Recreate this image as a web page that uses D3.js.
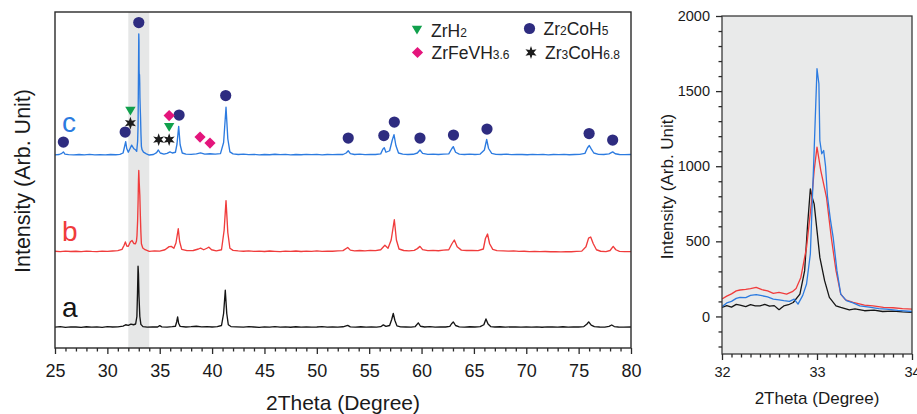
<!DOCTYPE html>
<html>
<head>
<meta charset="utf-8">
<script src="https://cdn.jsdelivr.net/npm/d3@7"></script>
<style>
  html, body { margin: 0; padding: 0; background: #fff; }
  svg { display: block; font-family: "Liberation Sans", Arial, Helvetica, sans-serif; }
</style>
</head>
<body>
<svg id="chart" width="917" height="414"></svg>
<script>
// ---------- XRD patterns, [2θ (deg), intensity (counts)] ----------
const patternA = [[25,38],[25.5,44],[26,36],[26.5,42],[27,40],[27.5,35],[28,43],[28.5,38],[29,41],[29.5,36],[30,44],[30.5,40],[31,42],[31.5,52],[31.75,70],[32,62],[32.25,78],[32.5,70],[32.7,80],[32.82,180],[32.88,500],[32.93,850],[32.97,750],[33.02,450],[33.1,180],[33.2,75],[33.4,45],[33.8,38],[34.3,42],[34.8,40],[35,58],[35.2,42],[35.7,38],[36.2,44],[36.5,50],[36.62,110],[36.71,175],[36.8,90],[36.95,48],[37.5,40],[38,44],[38.5,50],[39,42],[39.5,46],[40,40],[40.5,44],[40.9,60],[41.1,220],[41.26,530],[41.4,220],[41.55,70],[41.8,46],[42.3,42],[43,38],[43.5,44],[44,40],[44.5,36],[45,42],[45.5,39],[46,44],[46.5,38],[47,41],[47.5,37],[48,43],[48.5,39],[49,42],[49.5,38],[50,40],[50.5,44],[51,38],[51.5,41],[52,39],[52.5,43],[52.95,62],[53.2,42],[53.7,38],[54.2,43],[54.7,39],[55.2,41],[55.7,38],[56.1,44],[56.35,68],[56.6,48],[56.95,60],[57.15,140],[57.3,220],[57.45,130],[57.65,55],[58,42],[58.5,40],[59,38],[59.4,46],[59.69,95],[59.9,50],[60.3,40],[60.8,44],[61.3,38],[61.8,42],[62.3,40],[62.7,48],[62.85,80],[63.03,108],[63.25,60],[63.6,42],[64.1,39],[64.6,43],[65.1,40],[65.6,44],[65.95,70],[66.15,148],[66.35,80],[66.6,46],[67,40],[67.5,43],[68,38],[68.5,42],[69,40],[69.5,38],[70,42],[70.5,39],[71,41],[71.5,37],[72,42],[72.5,40],[73,38],[73.5,43],[74,39],[74.5,41],[75,40],[75.5,46],[75.8,80],[75.96,108],[76.2,65],[76.5,44],[77,40],[77.5,38],[77.9,48],[78.16,67],[78.4,46],[78.8,40],[79.3,38],[80,40]];

const patternB = [[25,50],[25.5,44],[26,52],[26.5,47],[27,50],[27.5,45],[28,52],[28.5,48],[29,46],[29.5,52],[30,48],[30.5,53],[31,58],[31.4,75],[31.6,130],[31.72,175],[31.85,120],[32,116],[32.2,176],[32.36,193],[32.54,153],[32.68,149],[32.78,186],[32.83,260],[32.89,460],[32.94,749],[32.97,1000],[33,1127],[33.04,971],[33.1,793],[33.15,527],[33.2,305],[33.25,149],[33.38,93],[33.6,71],[34,49],[34.5,55],[35,52],[35.5,70],[35.9,112],[36.1,115],[36.35,90],[36.55,160],[36.77,350],[36.9,180],[37.1,75],[37.6,58],[38.2,60],[38.7,80],[38.9,92],[39.2,70],[39.5,90],[39.7,104],[39.95,70],[40.4,55],[40.9,70],[41.15,330],[41.33,725],[41.5,300],[41.7,90],[42,62],[42.5,55],[43,50],[43.5,56],[44,48],[44.5,52],[45,47],[45.5,53],[46,49],[46.5,46],[47,52],[47.5,48],[48,53],[48.5,47],[49,51],[49.5,49],[50,54],[50.5,48],[51,52],[51.5,50],[52,55],[52.5,58],[52.95,100],[53.2,65],[53.6,55],[54.1,60],[54.6,56],[55.1,62],[55.6,58],[56.1,70],[56.5,130],[56.8,90],[57.1,200],[57.4,470],[57.6,200],[57.85,80],[58.3,60],[58.8,56],[59.3,62],[59.6,85],[59.85,115],[60.1,72],[60.6,58],[61.1,62],[61.6,57],[62.1,64],[62.6,70],[62.9,150],[63.13,200],[63.4,110],[63.8,65],[64.3,60],[64.8,62],[65.4,58],[65.9,80],[66.1,220],[66.3,280],[66.5,150],[66.8,75],[67.2,58],[67.8,55],[68.3,52],[68.8,55],[69.3,49],[69.8,50],[70.3,46],[70.8,48],[71.3,44],[71.8,47],[72.3,43],[72.8,46],[73.3,42],[73.8,45],[74.3,43],[74.8,48],[75.3,52],[75.7,110],[75.95,225],[76.15,240],[76.4,150],[76.7,70],[77.1,50],[77.6,46],[78,60],[78.3,115],[78.55,70],[78.9,48],[79.4,44],[80,46]];

const patternC = [[25,35],[25.4,40],[25.65,55],[25.8,75],[25.95,45],[26.3,38],[26.8,34],[27.3,40],[27.8,36],[28.3,41],[28.8,35],[29.3,38],[29.8,36],[30.3,40],[30.8,37],[31.2,42],[31.5,60],[31.65,150],[31.75,211],[31.85,120],[32,71],[32.19,127],[32.32,165],[32.54,116],[32.71,100],[32.8,82],[32.89,216],[32.93,416],[32.97,1105],[33,1649],[33.02,1549],[33.03,1171],[33.05,1083],[33.07,1105],[33.09,1000],[33.11,800],[33.14,650],[33.17,527],[33.21,305],[33.25,149],[33.31,105],[33.45,71],[33.73,49],[34,33],[34.4,40],[34.7,65],[34.87,100],[35.05,60],[35.4,45],[35.7,55],[35.98,75],[36.2,60],[36.5,70],[36.65,180],[36.81,415],[36.95,170],[37.15,60],[37.5,45],[38,42],[38.5,48],[38.9,62],[39.3,45],[39.8,50],[40.3,44],[40.8,52],[41.1,200],[41.33,670],[41.5,250],[41.7,75],[42,48],[42.5,40],[43,44],[43.5,38],[44,42],[44.5,36],[45,40],[45.5,37],[46,43],[46.5,38],[47,41],[47.5,36],[48,40],[48.5,37],[49,42],[49.5,38],[50,41],[50.5,36],[51,40],[51.5,38],[52,42],[52.5,40],[52.8,60],[53,90],[53.2,52],[53.6,40],[54.1,44],[54.6,38],[55.1,42],[55.6,40],[56.1,48],[56.3,110],[56.44,130],[56.6,70],[56.95,90],[57.2,230],[57.37,305],[57.55,160],[57.8,60],[58.2,44],[58.7,40],[59.2,43],[59.6,60],[59.85,100],[60.1,55],[60.6,42],[61.1,45],[61.6,40],[62.1,44],[62.6,48],[62.9,120],[63.03,145],[63.25,70],[63.6,45],[64.1,40],[64.6,44],[65.1,40],[65.6,46],[66,100],[66.22,240],[66.4,120],[66.7,55],[67.1,42],[67.6,40],[68.1,44],[68.6,38],[69.1,42],[69.6,40],[70.1,37],[70.6,42],[71.1,38],[71.6,41],[72.1,36],[72.6,40],[73.1,38],[73.6,42],[74.1,37],[74.6,40],[75.1,41],[75.6,55],[75.85,130],[76.02,160],[76.2,115],[76.45,60],[76.9,42],[77.4,40],[77.9,48],[78.25,75],[78.5,50],[78.9,40],[79.4,38],[80,40]];

// vertical stacking offsets (counts) for the three patterns
const stackOffsets = { a: 0, b: 1000, c: 2300 };

// ---------- close-up of the main reflection, 32–34° ----------
const zoomA = [[32,60],[32.05,72],[32.1,62],[32.15,80],[32.19,76],[32.25,66],[32.3,78],[32.35,70],[32.4,71],[32.45,80],[32.5,68],[32.55,72],[32.6,45],[32.61,49],[32.65,70],[32.7,78],[32.75,93],[32.82,149],[32.87,305],[32.9,600],[32.93,849],[32.95,790],[32.97,749],[33,571],[33.03,393],[33.08,238],[33.13,127],[33.2,71],[33.25,60],[33.34,43],[33.4,50],[33.5,38],[33.6,42],[33.69,33],[33.8,36],[33.9,30],[34,27]];
const zoomB = [[32,116],[32.05,135],[32.1,150],[32.15,170],[32.19,176],[32.25,180],[32.3,185],[32.36,193],[32.42,178],[32.48,170],[32.54,153],[32.6,160],[32.68,149],[32.74,165],[32.78,186],[32.83,260],[32.89,460],[32.94,749],[32.97,971],[33,1127],[33.04,971],[33.1,793],[33.15,527],[33.2,305],[33.25,149],[33.3,110],[33.38,93],[33.5,75],[33.59,71],[33.7,60],[33.8,58],[33.9,52],[34,49]];
const zoomC = [[32,65],[32.05,90],[32.1,100],[32.15,120],[32.19,127],[32.25,125],[32.3,140],[32.36,145],[32.42,138],[32.48,130],[32.54,116],[32.6,110],[32.65,105],[32.71,100],[32.76,115],[32.8,82],[32.85,140],[32.89,216],[32.93,416],[32.97,1105],[33,1649],[33.02,1549],[33.03,1171],[33.05,1083],[33.07,1105],[33.09,1000],[33.11,800],[33.14,650],[33.17,527],[33.21,305],[33.25,149],[33.31,105],[33.38,90],[33.45,71],[33.55,62],[33.65,52],[33.73,49],[33.85,40],[34,33]];

// ---------- phase markers, [2θ, stacked level (counts)] ----------
const markZr2CoH5 = [[25.8,2506],[31.7,2639],[33,4099],[36.85,2866],[41.3,3126],[53,2559],[56.4,2593],[57.4,2773],[59.85,2559],[63.05,2599],[66.25,2679],[76,2619],[78.25,2533]];
const markZrH2 = [[32.2,2919],[35.9,2702]];
const markZr3CoH68 = [[32.2,2759],[34.9,2539],[35.9,2539]];
const markZrFeVH36 = [[35.9,2859],[38.85,2573],[39.8,2493]];

// axis ticks and labels
const mainTicks = [25,30,35,40,45,50,55,60,65,70,75,80];
const zoomXTicks = [32,33,34];
const zoomYTicks = [0,500,1000,1500,2000];
const highlightBand = [32,34];

const colors = { a: "#151515", b: "#f03c3c", c: "#2c7be0" };

// ---------- drawing ----------
const svg = d3.select("#chart");

// glyphs
function starPath(R, r) {
  const pts = [];
  for (let i = 0; i < 12; i++) {
    const ang = -Math.PI / 2 + i * Math.PI / 6;
    const rad = i % 2 === 0 ? R : r;
    pts.push([Math.cos(ang) * rad, Math.sin(ang) * rad]);
  }
  return "M" + pts.map(p => p[0].toFixed(2) + "," + p[1].toFixed(2)).join("L") + "Z";
}
const glyph = {
  circle: g => g.append("circle").attr("r", 5.6).attr("fill", "#2e2c80"),
  triangle: g => g.append("path").attr("d", "M-5.2,-4.3L5.2,-4.3L0,4.5Z").attr("fill", "#11a04c"),
  diamond: g => g.append("path").attr("d", "M0,-5.6L5.6,0L0,5.6L-5.6,0Z").attr("fill", "#e4157c"),
  star: g => g.append("path").attr("d", starPath(6.4, 2.8)).attr("fill", "#1c1c1c")
};

// ---- main panel ----
const mx = d3.scaleLinear().domain([25, 80]).range([55, 631]);
const my = d3.scaleLinear().domain([-240, 4240]).range([348, 12]);

const main = svg.append("g");
main.append("rect")
  .attr("x", mx(highlightBand[0])).attr("y", my.range()[1])
  .attr("width", mx(highlightBand[1]) - mx(highlightBand[0]))
  .attr("height", my.range()[0] - my.range()[1])
  .attr("fill", "#e6e7e7");

const mainClip = svg.append("clipPath").attr("id", "mainClip")
  .append("rect").attr("x", 55).attr("y", 12).attr("width", 576).attr("height", 336);

const plotLayer = main.append("g").attr("clip-path", "url(#mainClip)");
[["a", patternA], ["b", patternB], ["c", patternC]].forEach(([k, data]) => {
  const line = d3.line().x(d => mx(d[0])).y(d => my(d[1] + stackOffsets[k]));
  plotLayer.append("path").datum(data)
    .attr("d", line).attr("fill", "none")
    .attr("stroke", colors[k]).attr("stroke-width", 1.35)
    .attr("stroke-linejoin", "round");
});

// frame
main.append("rect").attr("x", 55).attr("y", 12).attr("width", 576).attr("height", 336)
  .attr("fill", "none").attr("stroke", "#2a2a2a").attr("stroke-width", 1.4);

// x axis (major + minor ticks)
const mxAxis = main.append("g").attr("transform", "translate(0,348)")
  .call(d3.axisBottom(mx).tickValues(mainTicks).tickSize(6).tickPadding(10).tickFormat(d3.format("d")));
main.append("g").attr("transform", "translate(0,348)")
  .call(d3.axisBottom(mx).tickValues(d3.range(25, 81, 1).filter(v => v % 5 !== 0)).tickSize(3.5).tickFormat(""))
  .call(g => g.select(".domain").remove());
mxAxis.select(".domain").remove();
main.selectAll(".tick line").attr("stroke", "#2a2a2a").attr("stroke-width", 1.3);
mxAxis.selectAll("text").attr("font-size", 18).attr("fill", "#1a1a1a")
  .attr("font-family", "Liberation Sans, Arial, sans-serif");

main.append("text").attr("x", 343).attr("y", 410).attr("text-anchor", "middle")
  .attr("font-size", 21).attr("fill", "#1a1a1a").text("2Theta (Degree)");
main.append("text").attr("transform", "translate(29.5,181) rotate(-90)")
  .attr("text-anchor", "middle").attr("font-size", 21.5).attr("fill", "#1a1a1a")
  .text("Intensity (Arb. Unit)");

// pattern letters
const letters = [["c", 132], ["b", 241], ["a", 317]];
letters.forEach(([k, y]) => {
  main.append("text").attr("x", 62).attr("y", y).attr("font-size", 28)
    .attr("fill", colors[k]).text(k);
});

// phase markers
function placeMarks(data, kind) {
  data.forEach(d => {
    const g = main.append("g").attr("transform", `translate(${mx(d[0])},${my(d[1])})`);
    glyph[kind](g);
  });
}
placeMarks(markZr2CoH5, "circle");
placeMarks(markZrH2, "triangle");
placeMarks(markZr3CoH68, "star");
placeMarks(markZrFeVH36, "diamond");

// legend
const legendItems = [
  { kind: "triangle", x: 417, y: 30, base: ["Zr", "H"], subs: [null, "2"] },
  { kind: "diamond", x: 417.5, y: 52.5, base: ["ZrFeV", "H"], subs: [null, "3.6"] },
  { kind: "circle", x: 529.5, y: 28.5, base: ["Zr", "CoH"], subs: ["2", "5"] },
  { kind: "star", x: 531, y: 52.5, base: ["Zr", "CoH"], subs: ["3", "6.8"] }
];
legendItems.forEach(it => {
  const g = main.append("g").attr("transform", `translate(${it.x},${it.y})`);
  glyph[it.kind](g);
  const t = main.append("text").attr("x", it.x + 14).attr("y", it.y + 6.5)
    .attr("font-size", 17.5).attr("fill", "#222");
  it.base.forEach((b, i) => {
    t.append("tspan").text(b);
    if (it.subs[i]) t.append("tspan").attr("font-size", 12).text(it.subs[i]);
  });
});

// ---- close-up panel ----
const zx = d3.scaleLinear().domain([32, 34]).range([722, 912]);
const zy = d3.scaleLinear().domain([-250, 2000]).range([354, 16]);
const zoomG = svg.append("g");
zoomG.append("rect").attr("x", 722).attr("y", 16).attr("width", 190).attr("height", 338)
  .attr("fill", "#e9eaea");
svg.append("clipPath").attr("id", "zoomClip")
  .append("rect").attr("x", 722).attr("y", 16).attr("width", 190).attr("height", 338);
const zLayer = zoomG.append("g").attr("clip-path", "url(#zoomClip)");
[["a", zoomA], ["b", zoomB], ["c", zoomC]].forEach(([k, data]) => {
  zLayer.append("path").datum(data)
    .attr("d", d3.line().x(d => zx(d[0])).y(d => zy(d[1])))
    .attr("fill", "none").attr("stroke", colors[k]).attr("stroke-width", 1.3)
    .attr("stroke-linejoin", "round");
});
zoomG.append("rect").attr("x", 722).attr("y", 16).attr("width", 190).attr("height", 338)
  .attr("fill", "none").attr("stroke", "#3a3a3a").attr("stroke-width", 1.3);

const zxAxis = zoomG.append("g").attr("transform", "translate(0,354)")
  .call(d3.axisBottom(zx).tickValues(zoomXTicks).tickSize(6).tickPadding(6.5).tickFormat(d3.format("d")));
zoomG.append("g").attr("transform", "translate(0,354)")
  .call(d3.axisBottom(zx).tickValues(d3.range(1, 20).map(i => 32 + i * 0.1).filter(v => Math.abs(v - 33) > 1e-6)).tickSize(3.5).tickFormat(""))
  .call(g => g.select(".domain").remove());
const zyAxis = zoomG.append("g").attr("transform", "translate(722,0)")
  .call(d3.axisLeft(zy).tickValues(zoomYTicks).tickSize(6).tickPadding(6).tickFormat(d3.format("d")));
zoomG.append("g").attr("transform", "translate(722,0)")
  .call(d3.axisLeft(zy).tickValues(d3.range(-200, 2001, 100).filter(v => v % 500 !== 0)).tickSize(3.5).tickFormat(""))
  .call(g => g.select(".domain").remove());
zxAxis.select(".domain").remove();
zyAxis.select(".domain").remove();
zoomG.selectAll(".tick line").attr("stroke", "#2a2a2a").attr("stroke-width", 1.3);
zoomG.selectAll(".tick text").attr("font-size", 14.5).attr("fill", "#1a1a1a")
  .attr("font-family", "Liberation Sans, Arial, sans-serif");

zoomG.append("text").attr("x", 817).attr("y", 404).attr("text-anchor", "middle")
  .attr("font-size", 17).attr("fill", "#1a1a1a").text("2Theta (Degree)");
zoomG.append("text").attr("transform", "translate(672.5,186.5) rotate(-90)")
  .attr("text-anchor", "middle").attr("font-size", 17).attr("fill", "#1a1a1a")
  .text("Intensity (Arb. Unit)");
</script>
</body>
</html>
